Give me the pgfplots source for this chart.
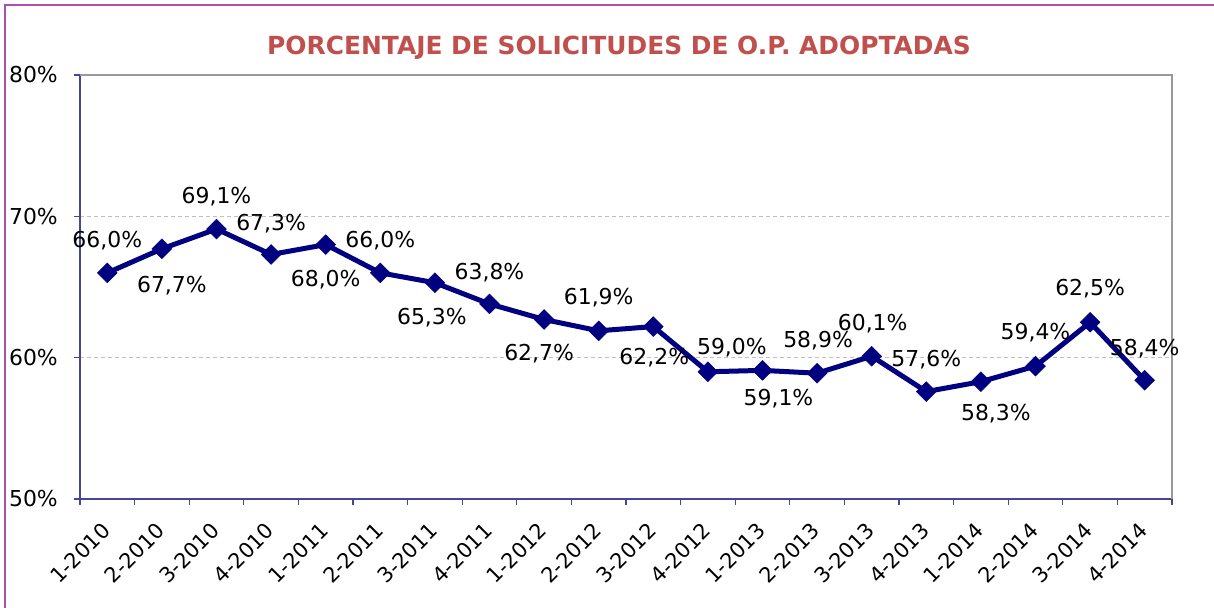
\documentclass[border=0pt]{standalone}
\usepackage{pgfplots}
\pgfplotsset{compat=1.18}
\usepackage{pgfplotstable}
\usepackage{fontspec}
\setmainfont{DejaVu Sans}
\definecolor{navyline}{RGB}{0,0,128}
\definecolor{axisblue}{RGB}{70,70,150}
\definecolor{titlered}{RGB}{192,80,77}
\definecolor{bordpurple}{RGB}{170,80,180}
\definecolor{boxgray}{RGB}{153,153,153}
\definecolor{gridgray}{RGB}{192,192,192}

\pgfplotstableread{
x y dx dy
0 66.0 0 32
1 67.7 10 -37
2 69.1 0 32
3 67.3 0 31
4 68.0 0 -35
5 66.0 0 32
6 65.3 -3 -35
7 63.8 0 31
8 62.7 -5 -34
9 61.9 0 33
10 62.2 1 -31
11 59.0 24 24
12 59.1 16 -28
13 58.9 1 33
14 60.1 1 33
15 57.6 0 32
16 58.3 15 -32
17 59.4 0 33
18 62.5 0 34
19 58.4 0 32
}\datatable

\begin{document}
\begin{tikzpicture}[x=1bp,y=1bp]
\useasboundingbox (0,0) rectangle (1214,608);
\fill[white] (0,0) rectangle (1214,608);
\draw[bordpurple, line width=1.5bp] (5,0) -- (5,603) -- (1214,603);
\node[font=\bfseries\fontsize{25}{30}\selectfont, text=titlered] at (619,560) {PORCENTAJE DE SOLICITUDES DE O.P. ADOPTADAS};
\begin{axis}[
  at={(80bp,109bp)}, anchor=south west,
  scale only axis, width=1092bp, height=424bp,
  xmin=-0.5, xmax=19.5, ymin=50, ymax=80,
  clip=false,
  axis x line*=bottom, axis y line*=left,
  axis line style={-, axisblue, line width=2bp},
  xtick={0,...,19},
  xticklabels={1-2010,2-2010,3-2010,4-2010,1-2011,2-2011,3-2011,4-2011,1-2012,2-2012,3-2012,4-2012,1-2013,2-2013,3-2013,4-2013,1-2014,2-2014,3-2014,4-2014},
  minor xtick={-0.5,0.5,...,19.5},
  ytick={50,60,70,80},
  yticklabels={50\%,60\%,70\%,80\%},
  tick align=outside,
  major tick length=6bp, minor tick length=6bp,
  major x tick style={draw=none},
  minor x tick style={axisblue, line width=1.2bp},
  major y tick style={axisblue, line width=1.2bp},
  ymajorgrids,
  major grid style={gridgray, dash pattern=on 4bp off 3bp, line width=0.8bp},
  ticklabel style={font=\fontsize{22}{26}\selectfont, text=black},
  xticklabel style={font=\fontsize{21}{25}\selectfont, inner sep=0pt, xshift=-1bp, yshift=-22bp, rotate=45, anchor=east},
  yticklabel style={inner sep=0pt, xshift=-16bp},
  point meta=explicit,
  nodes near coords={\pgfmathprintnumber[fixed,fixed zerofill,precision=1,use comma,assume math mode=true]{\pgfplotspointmeta}\%},
  visualization depends on={\thisrow{dx} \as \dx},
  visualization depends on={\thisrow{dy} \as \dy},
  every node near coord/.append style={anchor=center, inner sep=0pt, xshift=\dx*1bp, yshift=\dy*1bp, font=\fontsize{22}{26}\selectfont, text=black},
]
\draw[boxgray, line width=2bp] (rel axis cs:0,1) -- (rel axis cs:1,1) -- (rel axis cs:1,0);
\addplot[navyline, line width=5bp, mark=square*, mark size=7bp, mark options={rotate=45, fill=navyline, draw=navyline, line width=0.5bp}]
  table[x=x, y=y, meta=y] {\datatable};
\end{axis}
\end{tikzpicture}
\end{document}
